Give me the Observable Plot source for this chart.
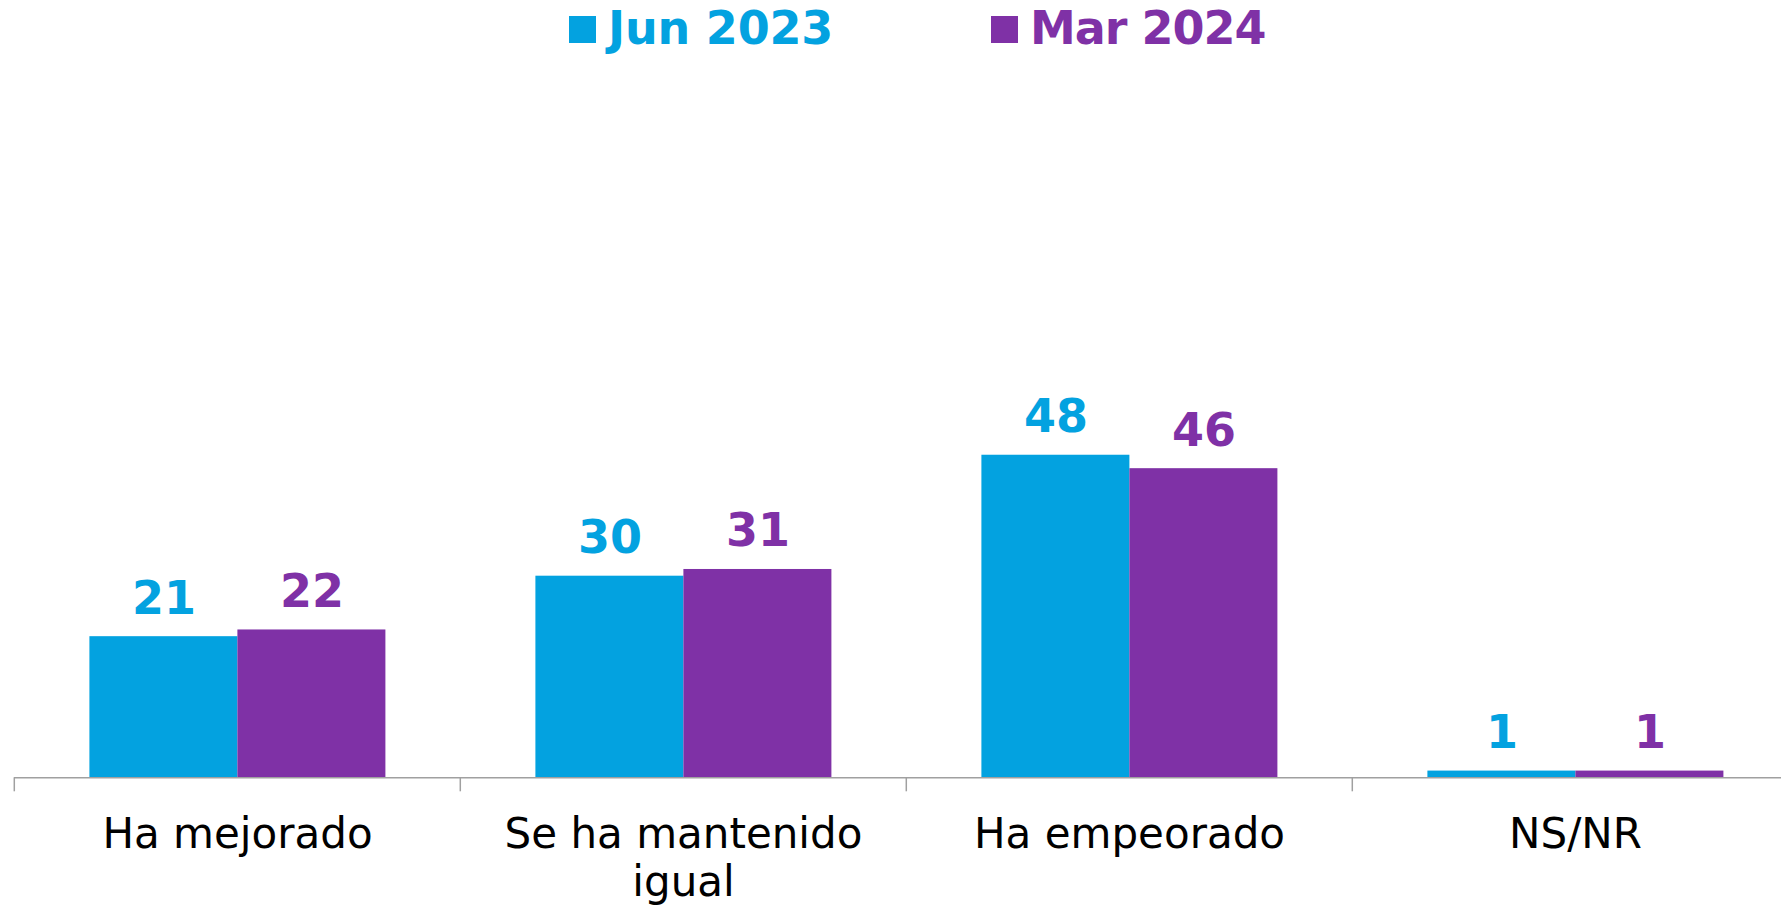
<!DOCTYPE html>
<html>
<head>
<meta charset="utf-8">
<script src="https://cdn.jsdelivr.net/npm/d3@7"></script>
<script src="https://cdn.jsdelivr.net/npm/@observablehq/plot@0.6"></script>
<style>
  html, body { margin: 0; padding: 0; background: #fff; overflow: hidden; }
  #legend { position: relative; width: 1781px; height: 60px; font-family: "DejaVu Sans", sans-serif; font-weight: bold; font-size: 46px; line-height: 1; }
  .sw { position: absolute; top: 16px; width: 27px; height: 27px; }
  .lt { position: absolute; top: 5px; white-space: nowrap; }
  #chart svg { display: block; }
</style>
</head>
<body>
<div id="legend"></div>
<div id="chart"></div>
<script>
const categories = ["Ha mejorado", "Se ha mantenido igual", "Ha empeorado", "NS/NR"];
const categoryLabels = ["Ha mejorado", "Se ha mantenido\nigual", "Ha empeorado", "NS/NR"];
const seriesNames = ["Jun 2023", "Mar 2024"];
const jun2023 = [21, 30, 48, 1];
const mar2024 = [22, 31, 46, 1];
const seriesColors = ["#03A2E0", "#7F31A6"];

const values = [jun2023, mar2024];
const data = categories.flatMap((c, i) => seriesNames.map((s, j) => ({category: c, series: s, value: values[j][i]})));

// Legend (HTML, above the SVG)
const legend = document.getElementById("legend");
const legendPos = [{sw: 569, tx: 608, ls: "-0.2px"}, {sw: 991, tx: 1030, ls: "-1px"}];
seriesNames.forEach((s, j) => {
  const sw = document.createElement("div");
  sw.className = "sw"; sw.style.left = legendPos[j].sw + "px"; sw.style.background = seriesColors[j];
  const t = document.createElement("div");
  t.className = "lt"; t.style.left = legendPos[j].tx + "px"; t.style.color = seriesColors[j];
  t.style.letterSpacing = legendPos[j].ls;
  t.textContent = s;
  legend.appendChild(sw); legend.appendChild(t);
});

const width = 1781, height = 848;
const marginLeft = 13.6, marginRight = -18.2;
const facetWidth = (width - marginLeft - marginRight) / categories.length;
const labelOf = c => categoryLabels[categories.indexOf(c)];

const chart = Plot.plot({
  width, height,
  marginLeft, marginRight,
  marginTop: 45.3, marginBottom: 130.7,
  style: {fontFamily: "DejaVu Sans, sans-serif", background: "#fff", overflow: "hidden"},
  fx: {domain: categories, padding: 0, axis: null, label: null},
  x: {domain: seriesNames, paddingInner: 0, paddingOuter: 0.5, axis: null, label: null},
  y: {domain: [0, 100], axis: null},
  color: {domain: seriesNames, range: seriesColors},
  marks: [
    Plot.barY(data, {fx: "category", x: "series", y: "value", fill: "series"}),
    Plot.ruleY([0], {stroke: "#a0a0a0", strokeWidth: 1.5}),
    Plot.text(data, {fx: "category", x: "series", y: "value", text: d => String(d.value), fill: "series",
      lineAnchor: "bottom", dy: -23, fontSize: 46, fontWeight: "bold"}),
    Plot.axisFx({anchor: "bottom", label: null, tickSize: 14, tickFormat: () => "", dx: -facetWidth / 2, stroke: "#a0a0a0", strokeWidth: 1.5}),
    Plot.axisFx({anchor: "bottom", label: null, tickSize: 0, tickPadding: 36.5, fontSize: 42, lineHeight: 1.14,
      tickFormat: labelOf, fill: "#000"})
  ]
});
document.getElementById("chart").appendChild(chart);
</script>
</body>
</html>
